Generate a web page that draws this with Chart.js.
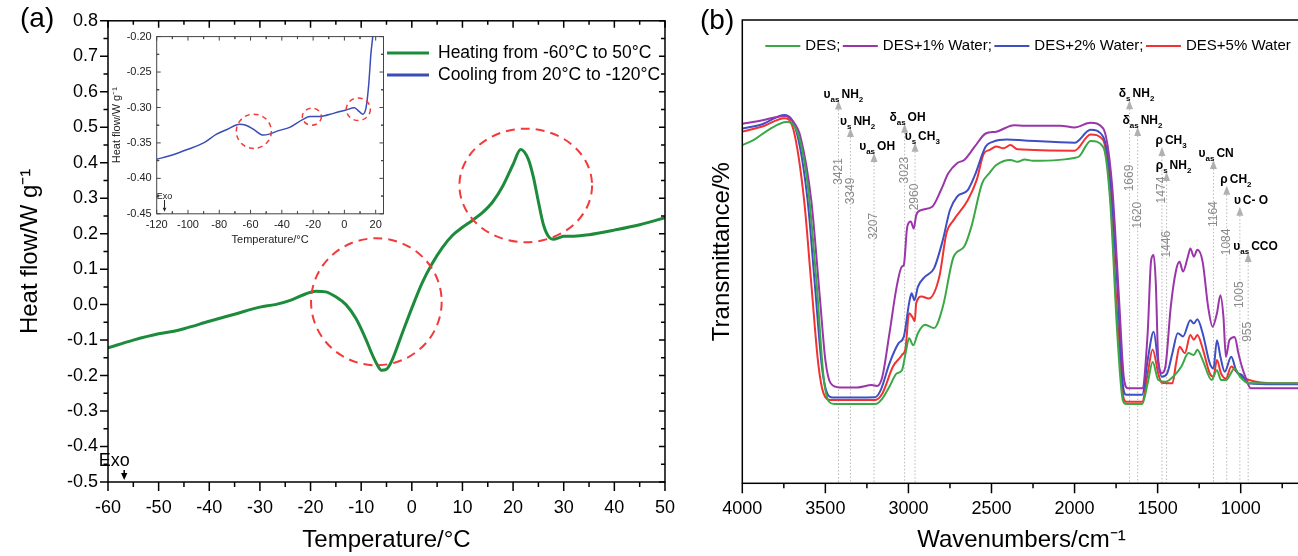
<!DOCTYPE html>
<html>
<head>
<meta charset="utf-8">
<script src="https://cdn.jsdelivr.net/npm/chart.js@4.4.1/dist/chart.umd.min.js"></script>
<style>
  html, body { margin: 0; padding: 0; background: #fff; overflow: hidden; }
  body { width: 1298px; height: 556px; position: relative; }
  .box { position: absolute; }
</style>
</head>
<body>
<div class="box" style="left:0;top:0;width:690px;height:556px"><canvas id="dsc" width="690" height="556"></canvas></div>
<div class="box" style="left:100px;top:25px;width:300px;height:230px"><canvas id="inset" width="300" height="230"></canvas></div>
<div class="box" style="left:690px;top:0;width:620px;height:556px"><canvas id="ftir" width="620" height="556"></canvas></div>
<script>
// ---- panel (a): DSC heating run ----
var heatT = [-60, -55, -50, -47, -45, -40, -35, -30, -27, -24, -21, -19, -17, -15, -13, -11, -9, -8, -7, -6, -5, -4, -2, 0, 2, 4, 6, 8, 10, 12, 14, 16, 18, 20, 21.5, 23, 24, 25, 26, 27, 28, 29, 30, 32, 35, 40, 45, 50];
var heatQ = [-0.122, -0.1, -0.082, -0.075, -0.068, -0.047, -0.027, -0.007, 0.0, 0.012, 0.03, 0.038, 0.036, 0.022, 0.0, -0.04, -0.1, -0.135, -0.165, -0.185, -0.182, -0.16, -0.085, -0.01, 0.06, 0.115, 0.16, 0.195, 0.218, 0.238, 0.26, 0.29, 0.335, 0.395, 0.437, 0.41, 0.36, 0.29, 0.225, 0.192, 0.184, 0.188, 0.193, 0.193, 0.197, 0.21, 0.225, 0.245];
// inset: cooling run
var coolT = [-120, -110, -100, -90, -82, -75, -67, -63, -58, -52, -48, -42, -35, -27, -22, -16, -7, 1, 6.4, 8.5, 11.7, 13.8, 15.5, 17, 18.1, 19];
var coolQ = [-0.373, -0.367, -0.359, -0.35, -0.338, -0.331, -0.3235, -0.325, -0.331, -0.339, -0.3376, -0.3326, -0.328, -0.3174, -0.3128, -0.3128, -0.3083, -0.3036, -0.3004, -0.3036, -0.3096, -0.301, -0.269, -0.223, -0.2, -0.17];
var tempTicks = [-60, -50, -40, -30, -20, -10, 0, 10, 20, 30, 40, 50];
var heatTicks = [-0.5, -0.4, -0.3, -0.2, -0.1, 0, 0.1, 0.2, 0.3, 0.4, 0.5, 0.6, 0.7, 0.8];
var insetTempTicks = [-120, -100, -80, -60, -40, -20, 0, 20];
var insetHeatTicks = [-0.45, -0.4, -0.35, -0.3, -0.25, -0.2];
// red dashed marks: centre T, centre q, half width, half height (data units)
var dscCircles = [[-7.0, 0.008, 12.9, 0.179], [22.5, 0.336, 13.1, 0.16]];
var insetCircles = [[-57.9, -0.3336, 11.2, 0.0242], [-20.8, -0.313, 6.1, 0.012], [8.9, -0.3025, 7.7, 0.0159]];

// ---- panel (b): FTIR spectra ----
var desWn = [4000, 3928, 3842, 3735, 3671, 3607, 3553, 3511, 3478, 3446, 3200, 3157, 3114, 3071, 3039, 3017, 2996, 2971, 2943, 2900, 2846, 2793, 2728, 2664, 2621, 2557, 2514, 2471, 2386, 2343, 2300, 2250, 1979, 1904, 1828, 1786, 1743, 1710, 1689, 1593, 1560, 1530, 1496, 1453, 1389, 1357, 1314, 1282, 1261, 1229, 1175, 1143, 1118, 1089, 1036, 1004, 950, 800, 640];
var desT = [73.0, 74.2, 76.3, 78.0, 76.0, 64.7, 43.2, 23.0, 17.6, 17.1, 17.1, 18.3, 20.9, 23.7, 24.4, 28.1, 31.3, 29.8, 32.4, 34.2, 33.5, 38.1, 48.9, 51.1, 55.4, 64.7, 66.9, 68.7, 69.8, 69.4, 69.9, 69.6, 70.4, 73.9, 72.6, 61.1, 32.4, 18.0, 17.1, 17.1, 21.6, 26.2, 22.3, 21.9, 23.7, 25.2, 28.1, 27.7, 28.8, 26.6, 22.3, 24.4, 22.3, 22.3, 24.8, 23.0, 21.6, 21.6, 21.6];
var w1Wn = [4000, 3885, 3746, 3692, 3650, 3585, 3532, 3500, 3468, 3414, 3307, 3221, 3189, 3157, 3114, 3071, 3039, 3028, 3007, 2986, 2968, 2953, 2921, 2857, 2804, 2760, 2707, 2664, 2600, 2535, 2471, 2364, 2300, 2086, 2000, 1904, 1828, 1775, 1732, 1704, 1679, 1593, 1560, 1539, 1524, 1511, 1496, 1475, 1453, 1421, 1389, 1368, 1347, 1318, 1303, 1282, 1261, 1229, 1196, 1169, 1143, 1122, 1104, 1089, 1068, 1036, 1014, 993, 972, 939, 800, 640];
var w1T = [77.6, 78.3, 79.3, 78.0, 74.8, 61.1, 39.6, 26.6, 21.6, 20.7, 20.7, 21.2, 21.0, 23.0, 32.4, 42.4, 46.8, 47.1, 55.4, 56.5, 55.0, 57.9, 59.0, 59.7, 63.3, 66.9, 69.1, 69.8, 72.7, 75.5, 75.9, 77.3, 77.2, 77.2, 76.8, 77.8, 76.6, 64.7, 39.6, 23.0, 20.5, 20.5, 32.4, 48.2, 49.3, 43.2, 26.6, 23.8, 25.2, 38.1, 46.0, 47.8, 45.7, 48.9, 50.7, 48.9, 50.4, 47.8, 38.1, 33.8, 36.7, 40.6, 36.0, 27.3, 30.9, 31.6, 28.1, 25.2, 23.0, 20.5, 20.5, 20.5];
var w2Wn = [4000, 3880, 3746, 3671, 3607, 3564, 3521, 3489, 3457, 3200, 3167, 3114, 3060, 3028, 2996, 2981, 2964, 2943, 2900, 2846, 2793, 2750, 2707, 2643, 2600, 2535, 2493, 2407, 2300, 2000, 1904, 1828, 1786, 1743, 1710, 1689, 1593, 1560, 1524, 1496, 1475, 1443, 1411, 1379, 1347, 1303, 1282, 1261, 1229, 1186, 1164, 1143, 1122, 1096, 1057, 1025, 993, 950, 800, 640];
var w2T = [76.6, 77.5, 79.5, 75.5, 61.1, 43.2, 25.2, 19.4, 18.5, 18.6, 20.1, 25.9, 30.2, 31.6, 38.9, 41.0, 39.5, 42.4, 44.6, 46.4, 52.5, 59.0, 61.9, 63.3, 66.5, 72.7, 73.7, 74.2, 74.0, 73.5, 76.3, 74.8, 66.2, 43.2, 21.6, 19.1, 19.1, 26.6, 32.7, 25.9, 23.0, 23.7, 28.1, 32.4, 31.7, 35.2, 34.5, 35.4, 32.4, 25.9, 24.8, 30.9, 27.3, 24.1, 27.3, 24.1, 23.4, 21.6, 21.4, 21.4];
var w5Wn = [4000, 3880, 3746, 3692, 3628, 3585, 3543, 3511, 3468, 3200, 3157, 3093, 3039, 3017, 2996, 2975, 2962, 2953, 2921, 2878, 2814, 2771, 2728, 2643, 2589, 2546, 2514, 2471, 2428, 2386, 2343, 2000, 1904, 1828, 1786, 1743, 1710, 1689, 1593, 1560, 1530, 1496, 1475, 1411, 1389, 1368, 1336, 1303, 1282, 1261, 1229, 1186, 1164, 1143, 1118, 1089, 1057, 1025, 993, 950, 800, 640];
var w5T = [75.9, 77.0, 78.8, 76.3, 61.1, 43.2, 25.9, 19.4, 18.0, 18.0, 19.4, 25.2, 27.7, 29.3, 36.7, 35.8, 35.0, 38.9, 40.3, 39.9, 44.6, 54.0, 56.8, 61.1, 65.5, 71.2, 71.9, 72.7, 72.3, 73.0, 72.1, 71.8, 75.3, 74.1, 62.6, 36.0, 19.4, 17.6, 17.6, 23.7, 28.9, 23.7, 21.7, 21.6, 25.9, 29.5, 28.1, 32.0, 31.0, 32.0, 29.1, 23.7, 23.0, 26.6, 23.7, 22.6, 25.2, 24.1, 23.0, 22.3, 21.6, 21.6];
var wnTicks = [4000, 3500, 3000, 2500, 2000, 1500, 1000];
var seriesNames = ['DES;', 'DES+1% Water;', 'DES+2% Water;', 'DES+5% Water'];
// band assignments: wavenumber, label (symbol / group, _ = subscript), arrow tip and number height in %
var bandWn = [3421, 3349, 3207, 3023, 2960, 1669, 1620, 1474, 1446, 1164, 1084, 1005, 955];
var bandPre = ['υ_as', 'υ_s', 'υ_as', 'δ_as', 'υ_s', 'δ_s', 'δ_as', 'ρ', 'ρ_s', 'υ_as', 'ρ', 'υ', 'υ_as'];
var bandName = ['NH_2', 'NH_2', 'OH', 'OH', 'CH_3', 'NH_2', 'NH_2', 'CH_3', 'NH_2', 'CN', 'CH_2', 'C- O', 'CCO'];
var bandTip = [82.6, 76.7, 71.3, 77.6, 73.5, 82.7, 76.9, 72.6, 67.2, 69.8, 64.2, 59.7, 49.7];
var bandNum = [67.3, 63.1, 55.5, 67.6, 61.8, 65.9, 57.9, 63.3, 51.6, 58.1, 52.1, 40.7, 32.7];

var FONT = 'Arial, "Liberation Sans", Helvetica, sans-serif';
var GREEN_A = '#1c8b3b';
var BLUE_A = '#3a4cb6';
var COLORS = ['#3aa845', '#9b35aa', '#3d4fc2', '#f03232'];
var RED_MARK = '#f23a3a';

Chart.defaults.font.family = FONT;
Chart.defaults.color = '#000';

var draw = (function () {
  'use strict';

  function pairs (xs, ys) {
    return xs.map(function (x, i) { return { x: x, y: ys[i] }; });
  }

  // minor ticks half way between the major ones, kept inside the axis range
  function minors (major, lo, hi) {
    var h = (major[1] - major[0]) / 2;
    var out = [];
    var a = Math.min(lo, hi) - 1e-9;
    var b = Math.max(lo, hi) + 1e-9;
    major.forEach(function (m) {
      [m - h, m + h].forEach(function (v) {
        if (v >= a && v <= b) out.push(v);
      });
    });
    return out;
  }

  function tickMarks (ctx, scale, values, at, len) {
    ctx.beginPath();
    values.forEach(function (v) {
      var p = scale.getPixelForValue(v);
      if (scale.isHorizontal()) {
        ctx.moveTo(p, at); ctx.lineTo(p, at + len);
      } else {
        ctx.moveTo(at, p); ctx.lineTo(at + len, p);
      }
    });
    ctx.stroke();
  }

  function ellipse (ctx, sx, sy, c) {
    var cx = sx.getPixelForValue(c[0]);
    var cy = sy.getPixelForValue(c[1]);
    var rx = Math.abs(sx.getPixelForValue(c[0] + c[2]) - cx);
    var ry = Math.abs(sy.getPixelForValue(c[1] + c[3]) - cy);
    ctx.beginPath();
    ctx.ellipse(cx, cy, rx, ry, 0, 0, Math.PI * 2);
    ctx.stroke();
  }

  function downArrow (ctx, x, y0, y1, head) {
    ctx.beginPath(); ctx.moveTo(x, y0); ctx.lineTo(x, y1 - head); ctx.stroke();
    ctx.beginPath();
    ctx.moveTo(x, y1); ctx.lineTo(x - head * 0.45, y1 - head); ctx.lineTo(x + head * 0.45, y1 - head);
    ctx.closePath(); ctx.fill();
  }

  // 'NH_2' -> NH with subscript 2
  function rich (ctx, str, x, y, align, big, small, drop) {
    var i = str.indexOf('_');
    var parts = i < 0 ? [[str, false]] : [[str.slice(0, i), false], [str.slice(i + 1), true]];
    var w = 0;
    parts.forEach(function (p) { ctx.font = p[1] ? small : big; w += ctx.measureText(p[0]).width; });
    var cx = align === 'right' ? x - w : x;
    ctx.textAlign = 'left';
    ctx.textBaseline = 'alphabetic';
    parts.forEach(function (p) {
      ctx.font = p[1] ? small : big;
      ctx.fillText(p[0], cx, p[1] ? y + drop : y);
      cx += ctx.measureText(p[0]).width;
    });
  }

  function legendRow (ctx, x, y, len, gap, color, width, text, size) {
    ctx.strokeStyle = color; ctx.lineWidth = width;
    ctx.beginPath(); ctx.moveTo(x, y); ctx.lineTo(x + len, y); ctx.stroke();
    ctx.fillStyle = '#000';
    ctx.font = size + 'px ' + FONT;
    ctx.textAlign = 'left'; ctx.textBaseline = 'middle';
    ctx.fillText(text, x + len + gap, y);
    return x + len + gap + ctx.measureText(text).width;
  }

  var dscDecor = {
    id: 'dscDecor',
    afterDraw: function (chart) {
      var ctx = chart.ctx, a = chart.chartArea, sx = chart.scales.x, sy = chart.scales.y;
      var xm = minors(tempTicks, -60, 50), ym = minors(heatTicks, -0.5, 0.8);
      ctx.save();
      ctx.strokeStyle = '#000'; ctx.lineWidth = 1.5;
      ctx.strokeRect(a.left, a.top, a.right - a.left, a.bottom - a.top);
      tickMarks(ctx, sx, tempTicks, a.bottom, 9);
      tickMarks(ctx, sx, xm, a.bottom, 5);
      tickMarks(ctx, sx, tempTicks, a.top, 7);
      tickMarks(ctx, sx, xm, a.top, 4);
      tickMarks(ctx, sy, heatTicks, a.left, -8);
      tickMarks(ctx, sy, ym, a.left, -4.5);
      tickMarks(ctx, sy, heatTicks, a.right, -6);
      tickMarks(ctx, sy, ym, a.right, -4);

      ctx.strokeStyle = RED_MARK; ctx.lineWidth = 2; ctx.setLineDash([9, 6]);
      dscCircles.forEach(function (c) { ellipse(ctx, sx, sy, c); });
      ctx.setLineDash([]);

      // Exo marker
      var ex = sx.getPixelForValue(-56.8);
      ctx.fillStyle = '#000'; ctx.strokeStyle = '#000'; ctx.lineWidth = 1.5;
      ctx.font = '18px ' + FONT; ctx.textAlign = 'center'; ctx.textBaseline = 'middle';
      ctx.fillText('Exo', ex - 10, 461);
      downArrow(ctx, ex, 470, a.bottom - 2, 7);

      legendRow(ctx, 387, 53, 42, 9, GREEN_A, 3, 'Heating from -60°C to 50°C', 17.5);
      legendRow(ctx, 387, 75, 42, 9, BLUE_A, 3, 'Cooling from 20°C to -120°C', 17.5);

      ctx.fillStyle = '#000'; ctx.font = '28px ' + FONT;
      ctx.textAlign = 'left'; ctx.textBaseline = 'middle';
      ctx.fillText('(a)', 20, 19);
      ctx.restore();
    }
  };

  var insetDecor = {
    id: 'insetDecor',
    afterDraw: function (chart) {
      var ctx = chart.ctx, a = chart.chartArea, sx = chart.scales.x, sy = chart.scales.y;
      var xm = minors(insetTempTicks, -120, 25), ym = minors(insetHeatTicks, -0.45, -0.2);
      ctx.save();
      ctx.strokeStyle = '#444'; ctx.lineWidth = 1;
      ctx.strokeRect(a.left, a.top, a.right - a.left, a.bottom - a.top);
      tickMarks(ctx, sx, insetTempTicks, a.bottom, -4);
      tickMarks(ctx, sx, xm, a.bottom, -2.5);
      tickMarks(ctx, sx, insetTempTicks, a.top, 4);
      tickMarks(ctx, sx, xm, a.top, 2.5);
      tickMarks(ctx, sy, insetHeatTicks, a.left, 4);
      tickMarks(ctx, sy, ym, a.left, 2.5);
      tickMarks(ctx, sy, insetHeatTicks, a.right, -4);
      tickMarks(ctx, sy, ym, a.right, -2.5);

      ctx.strokeStyle = RED_MARK; ctx.lineWidth = 1.5; ctx.setLineDash([5, 4]);
      insetCircles.forEach(function (c) { ellipse(ctx, sx, sy, c); });
      ctx.setLineDash([]);

      var ex = sx.getPixelForValue(-115);
      ctx.fillStyle = '#222'; ctx.strokeStyle = '#222'; ctx.lineWidth = 1;
      ctx.font = '9px ' + FONT; ctx.textAlign = 'center'; ctx.textBaseline = 'middle';
      ctx.fillText('Exo', ex, 171.5);
      downArrow(ctx, ex, 175, a.bottom - 2, 4);
      ctx.restore();
    }
  };

  var ftirDecor = {
    id: 'ftirDecor',
    beforeDatasetsDraw: function (chart) {
      var ctx = chart.ctx, a = chart.chartArea, sx = chart.scales.x, sy = chart.scales.y;
      ctx.save();
      bandWn.forEach(function (wn, i) {
        var x = sx.getPixelForValue(wn);
        var tip = sy.getPixelForValue(bandTip[i]);
        var num = sy.getPixelForValue(bandNum[i]);
        ctx.strokeStyle = '#b8b8b8'; ctx.lineWidth = 1; ctx.setLineDash([1.5, 2]);
        ctx.beginPath(); ctx.moveTo(x, tip + 9); ctx.lineTo(x, a.bottom); ctx.stroke();
        ctx.setLineDash([]);
        ctx.fillStyle = '#b0b0b0';
        ctx.beginPath(); ctx.moveTo(x, tip); ctx.lineTo(x + 3.5, tip + 9); ctx.lineTo(x - 3.5, tip + 9);
        ctx.closePath(); ctx.fill();
        ctx.save();
        ctx.translate(x, num); ctx.rotate(-Math.PI / 2);
        ctx.fillStyle = '#8a8a8a'; ctx.font = '12px ' + FONT;
        ctx.textAlign = 'center'; ctx.textBaseline = 'middle';
        ctx.fillText(String(wn), 0, 0);
        ctx.restore();
        ctx.fillStyle = '#000';
        rich(ctx, bandPre[i], x + 1, tip - 3, 'right', 'bold 12px ' + FONT, 'bold 8px ' + FONT, 4);
        rich(ctx, bandName[i], x + 3, tip - 3, 'left', 'bold 12px ' + FONT, 'bold 8px ' + FONT, 4);
      });
      ctx.restore();
    },
    afterDraw: function (chart) {
      var ctx = chart.ctx, a = chart.chartArea, sx = chart.scales.x;
      ctx.save();
      ctx.strokeStyle = '#000'; ctx.lineWidth = 1.5;
      ctx.strokeRect(a.left, a.top, a.right - a.left, a.bottom - a.top);
      tickMarks(ctx, sx, wnTicks, a.bottom, 10);
      tickMarks(ctx, sx, minors(wnTicks, 4000, 640), a.bottom, 5);

      var x = a.left + 23;
      seriesNames.forEach(function (name, i) {
        x = legendRow(ctx, x, 46, 35, 5, COLORS[i], 2, name, 15) + 2.5;
      });

      ctx.fillStyle = '#000'; ctx.font = '28px ' + FONT;
      ctx.textAlign = 'left'; ctx.textBaseline = 'middle';
      ctx.fillText('(b)', 10, 21);
      ctx.restore();
    }
  };

  function baseOptions (pad) {
    return {
      responsive: false,
      animation: false,
      devicePixelRatio: 1,
      layout: { padding: pad },
      plugins: { legend: { display: false }, tooltip: { enabled: false } },
      elements: { point: { radius: 0 } }
    };
  }

  function axis (min, max, ticks, fit, extra) {
    var o = {
      type: 'linear',
      min: min,
      max: max,
      grid: { display: false, drawTicks: false },
      border: { display: false },
      afterBuildTicks: function (s) { s.ticks = ticks.map(function (v) { return { value: v }; }); },
      afterFit: fit
    };
    Object.keys(extra).forEach(function (k) { o[k] = extra[k]; });
    return o;
  }

  function dsc () {
    var opt = baseOptions({ left: 0, top: 20, right: 18, bottom: 0 });
    opt.scales = {
      x: axis(-60, 50, tempTicks, function (s) { s.height = 74; }, {
        ticks: { padding: 15, autoSkip: false, maxRotation: 0, font: { size: 18 }, color: '#000' },
        title: { display: true, text: 'Temperature/°C', font: { size: 24 }, color: '#000', padding: { top: 0, bottom: 1 } }
      }),
      y: axis(-0.5, 0.8, heatTicks, function (s) { s.width = 108; }, {
        ticks: { padding: 10, font: { size: 18 }, color: '#000',
          callback: function (v) { return (Math.abs(v) < 1e-9 ? 0 : v).toFixed(1); } },
        title: { display: true, text: 'Heat flow/W g⁻¹', font: { size: 24 }, color: '#000', padding: { top: 15.5, bottom: 0 } }
      })
    };
    return new Chart(document.getElementById('dsc'), {
      type: 'line',
      data: { datasets: [{ data: pairs(heatT, heatQ), borderColor: GREEN_A, borderWidth: 3, cubicInterpolationMode: 'monotone' }] },
      options: opt,
      plugins: [dscDecor]
    });
  }

  function inset () {
    var opt = baseOptions({ left: 0, top: 8.3, right: 16.5, bottom: 0 });
    opt.scales = {
      x: axis(-120, 25, insetTempTicks, function (s) { s.height = 41.2; }, {
        ticks: { padding: 5, autoSkip: false, maxRotation: 0, font: { size: 11 }, color: '#222' },
        title: { display: true, text: 'Temperature/°C', font: { size: 11 }, color: '#222', padding: { top: 0, bottom: 8 } }
      }),
      y: axis(-0.45, -0.2, insetHeatTicks, function (s) { s.width = 56.7; }, {
        ticks: { padding: 5, font: { size: 11 }, color: '#222',
          callback: function (v) { return v.toFixed(2); } },
        title: { display: true, text: 'Heat flow/W g⁻¹', font: { size: 11 }, color: '#222', padding: { top: 10, bottom: 0 } }
      })
    };
    return new Chart(document.getElementById('inset'), {
      type: 'line',
      data: { datasets: [{ data: pairs(coolT, coolQ), borderColor: BLUE_A, borderWidth: 1.5, cubicInterpolationMode: 'monotone' }] },
      options: opt,
      plugins: [insetDecor]
    });
  }

  function ftir () {
    var opt = baseOptions({ left: 0, top: 20, right: 9.5, bottom: 0 });
    opt.scales = {
      x: axis(640, 4000, wnTicks, function (s) { s.height = 72.7; }, {
        reverse: true,
        ticks: { padding: 15, autoSkip: false, maxRotation: 0, font: { size: 18 }, color: '#000',
          callback: function (v) { return String(v); } },
        title: { display: true, text: 'Wavenumbers/cm⁻¹', font: { size: 24 }, color: '#000', padding: { top: 0, bottom: 1 } }
      }),
      y: axis(0, 100, [], function (s) { s.width = 52.3; }, {
        ticks: { display: false },
        title: { display: true, text: 'Transmittance/%', font: { size: 24 }, color: '#000', padding: { top: 17.5, bottom: 0 } }
      })
    };
    var sets = [[desWn, desT], [w1Wn, w1T], [w2Wn, w2T], [w5Wn, w5T]].map(function (s, i) {
      return { label: seriesNames[i], data: pairs(s[0], s[1]), borderColor: COLORS[i], borderWidth: 2, cubicInterpolationMode: 'monotone' };
    });
    return new Chart(document.getElementById('ftir'), {
      type: 'line',
      data: { datasets: sets },
      options: opt,
      plugins: [ftirDecor]
    });
  }

  return { dsc: dsc, inset: inset, ftir: ftir };
}());

draw.dsc();
draw.inset();
draw.ftir();
</script>
</body>
</html>
